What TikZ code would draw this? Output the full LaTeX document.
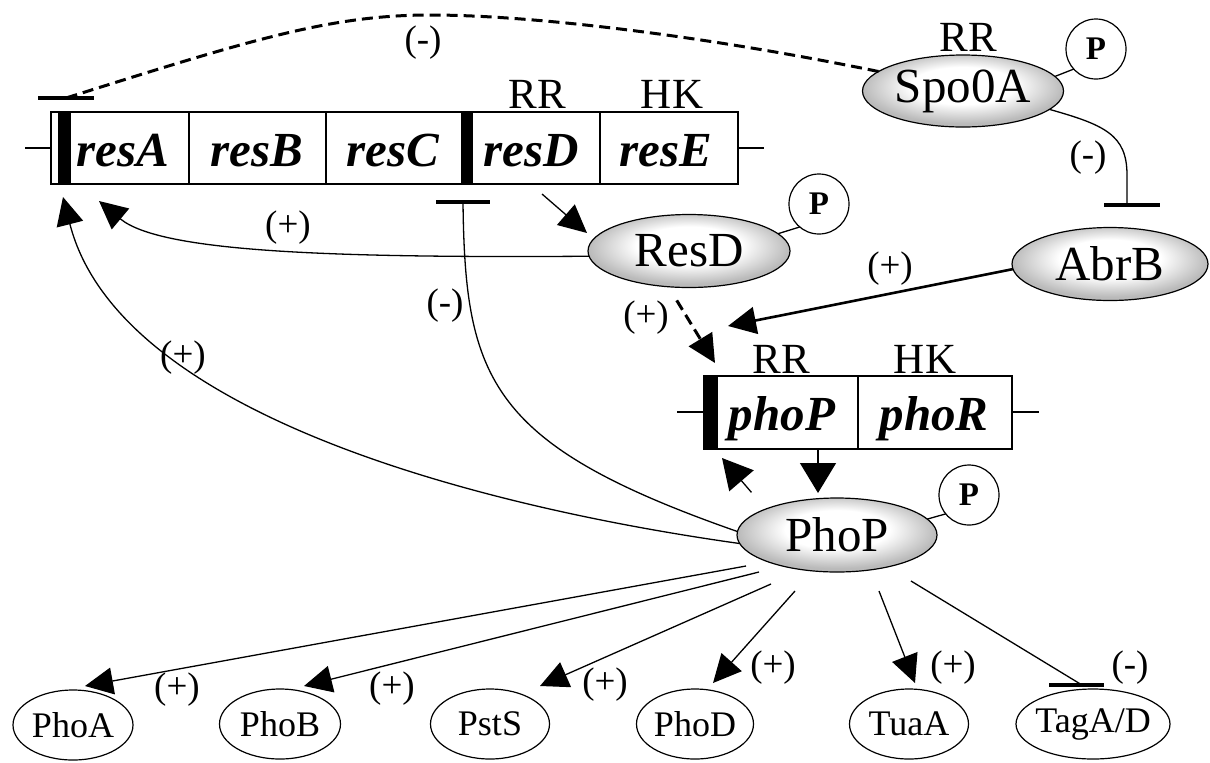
\documentclass[tikz,border=0pt]{standalone}
\usepackage{fontspec}
\setmainfont{Liberation Serif}
\usetikzlibrary{shapes.geometric,arrows.meta,calc}
\pgfdeclareradialshading{ellshade}{\pgfpoint{0bp}{5bp}}{color(0bp)=(white); color(13bp)=(white); color(25bp)=(black!27); color(50bp)=(black!27)}
\begin{document}
\begin{tikzpicture}[x=0.5pt,y=-0.5pt,
  prot/.style={ellipse, draw, line width=0.6pt, shade, shading=ellshade, inner sep=0pt, outer sep=0pt, font=\fontsize{24.5}{28}\selectfont},
  target/.style={ellipse, draw, line width=0.6pt, fill=white, inner sep=0pt, outer sep=0pt, minimum height=35pt, font=\fontsize{18}{20}\selectfont},
  phos/.style={circle, draw, line width=0.6pt, fill=white, minimum size=30pt, inner sep=0pt, outer sep=0pt, font=\fontsize{16.5}{18}\selectfont\bfseries},
  gene/.style={anchor=base, inner sep=0pt, font=\fontsize{24.5}{28}\selectfont\bfseries\itshape},
  dom/.style={anchor=base, inner sep=0pt, font=\fontsize{21.5}{24}\selectfont},
  sign/.style={inner sep=0pt, font=\fontsize{18.5}{20}\selectfont},
  opbox/.style={line width=0.75pt},
  conn/.style={line width=0.65pt},
  tipA/.style={-{Triangle[length=14pt,width=13.5pt]}},
  act/.style={conn, tipA},
  inhbar/.style={line width=2.2pt},
  dashln/.style={line width=1.5pt, dash pattern=on 5.5pt off 3pt},
]
\useasboundingbox (0,0) rectangle (1210,762);

% ---------- operon resABCDE ----------
\draw[opbox] (51,112) rectangle (738,184);
\draw[opbox] (189,112) -- (189,184);
\draw[opbox] (326,112) -- (326,184);
\draw[opbox] (600,112) -- (600,184);
\fill (58,112) rectangle (71,184);
\fill (461,112) rectangle (473,184);
\draw[opbox] (25,148) -- (51,148);
\draw[opbox] (738,148) -- (764,148);
\node[gene] (resA) at (123,166) {resA};
\node[gene] (resB) at (257,166) {resB};
\node[gene] (resC) at (393,166) {resC};
\node[gene] (resD) at (531,166) {resD};
\node[gene] (resE) at (666,166) {resE};
\node[dom] (RR1) at (537,108) {RR};
\node[dom] (HK1) at (672,108) {HK};

% ---------- operon phoPR ----------
\draw[opbox] (704,376) rectangle (1012,449);
\draw[opbox] (858,376) -- (858,449);
\fill (704,376) rectangle (718,449);
\draw[opbox] (677,412) -- (704,412);
\draw[opbox] (1012,412) -- (1039,412);
\node[gene] (phoP) at (782,430) {phoP};
\node[gene] (phoR) at (934,430) {phoR};
\node[dom] (RR2) at (781,373) {RR};
\node[dom] (HK2) at (925,373) {HK};

% ---------- proteins ----------
\node[prot, minimum width=100.5pt, minimum height=36pt] (Spo0A) at (963,91) {Spo0A};
\node[dom] (RR3) at (968,51) {RR};
\node[prot, minimum width=101pt, minimum height=36.5pt] (ResD) at (689,251) {ResD};
\node[prot, minimum width=98pt, minimum height=36.5pt] (AbrB) at (1110,264) {AbrB};
\node[prot, minimum width=100pt, minimum height=37pt] (PhoP) at (837,535) {PhoP};
\node[phos] (P1) at (1096,49) {P};
\node[phos] (P2) at (819,204) {P};
\node[phos] (P3) at (969,495) {P};

% ---------- targets ----------
\node[target, minimum width=60pt] (PhoA) at (73,725) {\makebox[0pt]{PhoA}};
\node[target, minimum width=60.5pt] (PhoB) at (280,724) {\makebox[0pt]{PhoB}};
\node[target, minimum width=59.5pt] (PstS) at (490,724) {\makebox[0pt]{PstS}};
\node[target, minimum width=58.5pt] (PhoD) at (695,724) {\makebox[0pt]{PhoD}};
\node[target, minimum width=59.5pt] (TuaA) at (909,724) {\makebox[0pt]{TuaA}};
\node[target, minimum width=77pt] (TagAD) at (1093,724) {\makebox[0pt]{TagA/D}};

% ---------- named attachment points ----------
\coordinate (resAbar) at (66,98);
\coordinate (resAin1) at (63,197);
\coordinate (resAin2) at (99,201);
\coordinate (resCDbar) at (463,202);
\coordinate (resDout) at (542,194);
\coordinate (phoPin1) at (715,363);
\coordinate (phoPin2) at (728,326);
\coordinate (phoPin3) at (722,458);
\coordinate (phoPout) at (818,449);
\coordinate (AbrBbar) at ($(AbrB)+(22,-59)$);

% ---------- connectors ----------
% Spo0A -| resA (dashed)
\draw[dashln] (Spo0A.167) .. controls (700,35) and (530,15) .. (430,15)
  .. controls (330,15) and (250,40) .. (resAbar);
\draw[inhbar] ($(resAbar)+(-28,0)$) -- ($(resAbar)+(28,0)$);

% Spo0A -| AbrB
\draw[conn] (Spo0A.-12) .. controls (1105,125) and (1127,135) .. ($(AbrBbar)+(-5,-30)$) -- ($(AbrBbar)+(-5,0)$);
\draw[inhbar] ($(AbrBbar)+(-28,0)$) -- ($(AbrBbar)+(28,0)$);

% phosphate links
\draw[conn] (Spo0A.9) -- (P1.222);
\draw[conn] (ResD.11) -- (P2.230);
\draw[conn] (PhoP.10) -- (P3.219);

% resD gene -> ResD
\draw[act] (resDout) -- ($(ResD)+(-102,-18)$);

% ResD -> resA
\draw[act] (ResD.183) .. controls (330,258) and (160,252) .. (resAin2);

% PhoP -> resA
\draw[act] (PhoP.185) .. controls (500,510) and (120,420) .. (resAin1);

% PhoP -| resCD promoter
\draw[conn] (PhoP.178) .. controls (490,445) and (465,380) .. (resCDbar);
\draw[inhbar] ($(resCDbar)+(-27,0)$) -- ($(resCDbar)+(27,0)$);

% ResD -> phoP (dashed)
\draw[dashln, tipA, shorten <=8pt] (ResD.240) -- (phoPin1);

% AbrB -> phoP
\draw[line width=1.3pt, tipA] (AbrB.183) -- (phoPin2);

% phoP gene -> PhoP
\draw[conn, -{Triangle[length=15pt,width=18pt]}] (phoPout) -- ($(phoPout |- PhoP.north)+(0,-5)$);

% PhoP -> phoP promoter
\draw[conn, -{Triangle[length=15pt,width=16pt]}, shorten <=11pt] (PhoP.160) -- (phoPin3);

% PhoP -> targets
\draw[act] ($(PhoP)+(-91,31)$) -- ($(PhoA)+(12,-39)$);
\draw[act] ($(PhoP)+(-78,37)$) -- ($(PhoB)+(24,-38)$);
\draw[act] ($(PhoP)+(-66,49)$) -- ($(PstS)+(50,-38)$);
\draw[act] ($(PhoP)+(-42,56)$) -- ($(PhoD)+(18,-41)$);
\draw[act] ($(PhoP)+(42,56)$) -- ($(TuaA)+(6,-41)$);
\draw[conn] ($(PhoP)+(74,46)$) -- ($(TagAD)+(-11,-39)$);
\draw[inhbar] ($(TagAD)+(-44,-39)$) -- ($(TagAD)+(11,-39)$);

% ---------- signs ----------
\node[sign] (s1) at (423,43) {(-)};
\node[sign] (s2) at (1088,158) {(-)};
\node[sign] (s3) at (288,228) {(+)};
\node[sign] (s4) at (445,306) {(-)};
\node[sign] (s5) at (183,358) {(+)};
\node[sign] (s6) at (890,269) {(+)};
\node[sign] (s7) at (646,318) {(+)};
\node[sign] (s8) at (177,690) {(+)};
\node[sign] (s9) at (392,689) {(+)};
\node[sign] (s10) at (605,685) {(+)};
\node[sign] (s11) at (773,668) {(+)};
\node[sign] (s12) at (953,668) {(+)};
\node[sign] (s13) at (1130,668) {(-)};
\end{tikzpicture}
\end{document}
